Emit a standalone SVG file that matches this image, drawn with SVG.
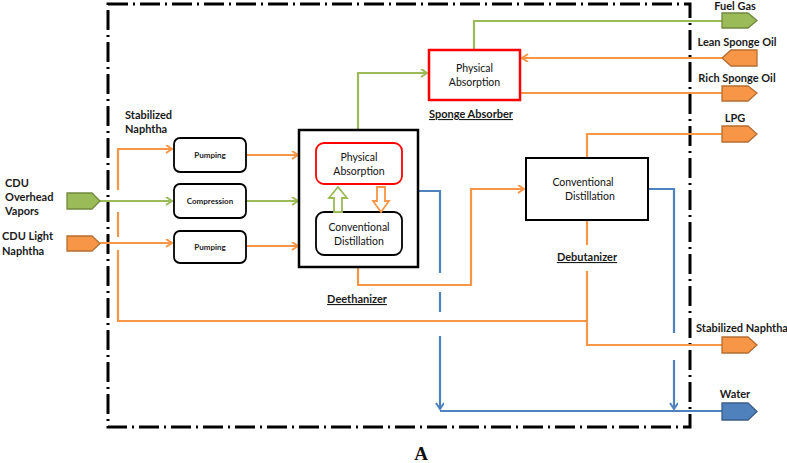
<svg xmlns="http://www.w3.org/2000/svg" width="787" height="463" viewBox="0 0 787 463">
<style>
.lbl{font-family:Lato,"Liberation Sans",sans-serif;font-weight:bold;font-size:11px;fill:#1a1a1a}
.box{font-family:Lato,"Liberation Sans",sans-serif;font-size:10.5px;fill:#111}
.sm{font-family:Lato,"Liberation Sans",sans-serif;font-weight:bold;font-size:8px;fill:#222}
.ul{font-family:Lato,"Liberation Sans",sans-serif;font-weight:bold;font-size:11px;fill:#1a1a1a;text-decoration:underline}
.o{fill:none;stroke:#F79646;stroke-width:2.2}
.g{fill:none;stroke:#9BBB59;stroke-width:2.2}
.b{fill:none;stroke:#4F81BD;stroke-width:2.2}
.of{fill:#F79646;stroke:#B66D31;stroke-width:1.3}
.gf{fill:#9BBB59;stroke:#71893F;stroke-width:1.3}
.bf{fill:#4F81BD;stroke:#385D8A;stroke-width:1.3}
.rbox{fill:#fff;stroke:#000;stroke-width:1.8}
</style>
<defs>
<marker id="ao" markerWidth="10" markerHeight="10" refX="7" refY="4" orient="auto" markerUnits="userSpaceOnUse"><path d="M1,0 L7,4 L1,8" fill="none" stroke="#F79646" stroke-width="2"/></marker>
<marker id="ag" markerWidth="10" markerHeight="10" refX="7" refY="4" orient="auto" markerUnits="userSpaceOnUse"><path d="M1,0 L7,4 L1,8" fill="none" stroke="#9BBB59" stroke-width="2"/></marker>
<marker id="ab" markerWidth="10" markerHeight="10" refX="7" refY="4" orient="auto" markerUnits="userSpaceOnUse"><path d="M1,0 L7,4 L1,8" fill="none" stroke="#4F81BD" stroke-width="2"/></marker>
</defs>
<rect width="787" height="463" fill="#fff"/>
<!-- boundary -->
<rect x="108" y="4" width="582" height="423" fill="none" stroke="#000" stroke-width="3" stroke-dasharray="20,5,2,5"/>

<g id="connectors">
<path class="o" d="M118,190 L118,149 L172,149" marker-end="url(#ao)"/>
<path class="o" d="M118,212 L118,237"/>
<path class="o" d="M118,250 L118,321 L587,321 L587,271"/>
<path class="o" d="M587,321 L587,345 L722,345"/>
<path class="g" d="M100,201 L172,201" marker-end="url(#ag)"/>
<path class="o" d="M100,243 L172,243" marker-end="url(#ao)"/>
<path class="o" d="M246,155 L298,155" marker-end="url(#ao)"/>
<path class="g" d="M246,201 L298,201" marker-end="url(#ag)"/>
<path class="o" d="M246,246 L298,246" marker-end="url(#ao)"/>
<path class="g" d="M358,130 L358,73 L427,73" marker-end="url(#ag)"/>
<path class="g" d="M474,50 L474,21 L722,21"/>
<path class="o" d="M722,58 L522,58" marker-end="url(#ao)"/>
<path class="o" d="M520,93 L722,93"/>
<path class="o" d="M358,267 L358,285 L471,285 L471,189 L524,189" marker-end="url(#ao)"/>
<path class="o" d="M587,158 L587,134 L722,134"/>
<path class="o" d="M587,220 L587,245"/>
<path class="b" d="M418,191 L440,191 L440,273"/>
<path class="b" d="M440,292 L440,312"/>
<path class="b" d="M440,336 L440,409" marker-end="url(#ab)"/>
<path class="b" d="M648,189 L674,189 L674,333"/>
<path class="b" d="M674,360 L674,409" marker-end="url(#ab)"/>
<path class="b" d="M440,411 L722,411"/>
</g>

<g id="cdu-overhead">
<path class="gf" d="M67,193 H92 L100,201 L92,209 H67 Z"/>
<text class="lbl" x="5" y="187">CDU</text>
<text class="lbl" x="5" y="201">Overhead</text>
<text class="lbl" x="5" y="215">Vapors</text>
</g>
<g id="cdu-light-naphtha">
<path class="of" d="M67,236 H92 L100,243.5 L92,251 H67 Z"/>
<text class="lbl" x="2" y="240">CDU Light</text>
<text class="lbl" x="2" y="255">Naphtha</text>
</g>
<g id="stabilized-naphtha-in">
<text class="lbl" x="125" y="119">Stabilized</text>
<text class="lbl" x="125" y="133">Naphtha</text>
</g>
<g id="pumping1">
<rect x="174" y="138" width="72" height="34" rx="6" class="rbox"/>
<text class="sm" x="210" y="158" text-anchor="middle">Pumping</text>
</g>
<g id="compression">
<rect x="174" y="184" width="72" height="34" rx="6" class="rbox"/>
<text class="sm" x="210" y="204" text-anchor="middle">Compression</text>
</g>
<g id="pumping2">
<rect x="174" y="231" width="72" height="32" rx="6" class="rbox"/>
<text class="sm" x="210" y="250" text-anchor="middle">Pumping</text>
</g>
<g id="deethanizer">
<rect x="299" y="130" width="119" height="137" fill="#fff" stroke="#000" stroke-width="2.5"/>
<rect x="316" y="143" width="86" height="41" rx="8" fill="#fff" stroke="#FF0000" stroke-width="1.8"/>
<text class="box" x="359" y="161" text-anchor="middle">Physical</text>
<text class="box" x="359" y="175" text-anchor="middle">Absorption</text>
<rect x="316" y="212" width="86" height="43" rx="8" class="rbox"/>
<text class="box" x="359" y="231" text-anchor="middle">Conventional</text>
<text class="box" x="359" y="245" text-anchor="middle">Distillation</text>
<path d="M334,212 V198 H329 L338,187 L347,198 H342 V212 Z" fill="#fff" stroke="#9BBB59" stroke-width="1.8"/>
<path d="M377,187 V201 H373 L381,212 L389,201 H385 V187 Z" fill="#fff" stroke="#F79646" stroke-width="1.8"/>
<text class="ul" x="357" y="303" text-anchor="middle">Deethanizer</text>
</g>
<g id="sponge-absorber">
<rect x="429" y="50" width="91" height="50" fill="#fff" stroke="#FF0000" stroke-width="2.5"/>
<text class="box" x="474.5" y="72" text-anchor="middle">Physical</text>
<text class="box" x="474.5" y="86" text-anchor="middle">Absorption</text>
<text class="ul" x="471" y="118" text-anchor="middle">Sponge Absorber</text>
</g>
<g id="debutanizer">
<rect x="526" y="158" width="122" height="62" fill="#fff" stroke="#000" stroke-width="2"/>
<text class="box" x="583" y="186" text-anchor="middle">Conventional</text>
<text class="box" x="590" y="200" text-anchor="middle">Distillation</text>
<text class="ul" x="587" y="261" text-anchor="middle">Debutanizer</text>
</g>
<g id="fuel-gas">
<path class="gf" d="M722,13 H748 L757,20.5 L748,28 H722 Z"/>
<text class="lbl" x="735" y="9.5" text-anchor="middle">Fuel Gas</text>
</g>
<g id="lean-sponge-oil">
<path class="of" d="M757,50 H731 L722,58 L731,66 H757 Z"/>
<text class="lbl" x="737" y="46" text-anchor="middle">Lean Sponge Oil</text>
</g>
<g id="rich-sponge-oil">
<path class="of" d="M722,86 H748 L757,93 L748,101 H722 Z"/>
<text class="lbl" x="737" y="82" text-anchor="middle">Rich Sponge Oil</text>
</g>
<g id="lpg">
<path class="of" d="M722,126 H748 L757,134 L748,142 H722 Z"/>
<text class="lbl" x="735" y="122" text-anchor="middle">LPG</text>
</g>
<g id="stabilized-naphtha-out">
<path class="of" d="M722,337 H748 L757,345 L748,353 H722 Z"/>
<text class="lbl" x="696" y="332">Stabilized Naphtha</text>
</g>
<g id="water">
<path class="bf" d="M722,403 H748 L757,411.5 L748,420 H722 Z"/>
<text class="lbl" x="735" y="398" text-anchor="middle">Water</text>
</g>
<text x="421" y="460" text-anchor="middle" font-family="'Liberation Serif',serif" font-weight="bold" font-size="19" fill="#111">A</text>
</svg>
